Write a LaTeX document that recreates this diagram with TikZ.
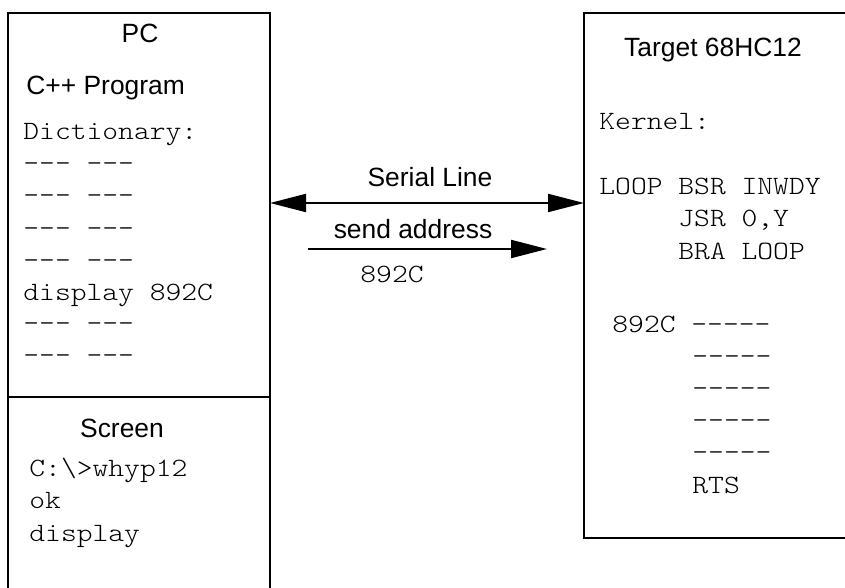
\documentclass[tikz,border=0pt]{standalone}
\usepackage{fontspec}
\setmainfont{Liberation Sans}
\setsansfont{Liberation Sans}
\setmonofont{lmmonolt10-regular}[Extension=.otf, FakeStretch=1.14]
\usetikzlibrary{arrows.meta}
\begin{document}
\begin{tikzpicture}[x=0.5pt,y=-0.5pt,
  box/.style={draw, line width=1.3pt, rectangle, inner sep=0pt, outer sep=0pt, anchor=north west},
  sans/.style={font=\fontsize{13.2}{16}\selectfont, inner sep=0pt},
  code/.style={font=\fontsize{13.2}{16}\selectfont\ttfamily, inner sep=0pt, anchor=base west},
  tipA/.style={line width=1pt, -{Triangle[length=18pt,width=9pt]}},
  tipB/.style={line width=1pt, {Triangle[length=18pt,width=9pt]}-{Triangle[length=18pt,width=9pt]}},
]
\clip (0,0) rectangle (845,588);
% boxes
\node[box, minimum width=131pt, minimum height=192pt] (pc) at (8,13) {};
\node[box, minimum width=131pt, minimum height=115pt] (scr) at (8,397) {};
\node[box, minimum width=150pt, minimum height=262.5pt] (target) at (584,13) {};
% PC texts
\node[sans, anchor=base] (pclbl) at (140,43) {PC};
\node[sans, anchor=base west] (cpp) at (26,95) {C++ Program};
\node[code] (d0) at (23,140) {Dictionary:};
\node[code] (d1) at (23,172) {--- ---};
\node[code] (d2) at (23,204) {--- ---};
\node[code] (d3) at (23,236) {--- ---};
\node[code] (d4) at (23,268) {--- ---};
\node[code] (d5) at (23,300) {display 892C};
\node[code] (d6) at (23,331) {--- ---};
\node[code] (d7) at (23,363) {--- ---};
% Screen texts
\node[sans, anchor=base] (scrlbl) at (122,437) {Screen};
\node[code] (s1) at (29,476) {C:\textbackslash>whyp12};
\node[code] (s2) at (29,508) {ok};
\node[code] (s3) at (29,541) {display};
% Target texts
\node[sans, anchor=base] (tlbl) at (713,57) {Target 68HC12};
\node[code] (k0) at (599,130) {Kernel:};
\node[code] (k1) at (599,195) {LOOP BSR INWDY};
\node[code] (k2) at (678,227) {JSR 0,Y};
\node[code] (k3) at (678,259) {BRA LOOP};
\node[code] (m0) at (612,332) {892C -----};
\node[code] (m1) at (692,364) {-----};
\node[code] (m2) at (692,396) {-----};
\node[code] (m3) at (692,428) {-----};
\node[code] (m4) at (692,460) {-----};
\node[code] (m5) at (692,493) {RTS};
% connectors
\coordinate (sy) at (0,203);
\draw[tipB] (pc.east |- sy) -- (target.west |- sy);
\node[sans, anchor=base] (serial) at (430,187) {Serial Line};
\coordinate (sa1) at (308,249);
\coordinate (sa2) at (547,249);
\draw[tipA] (sa1) -- (sa2);
\node[sans, anchor=base] (send) at (413,238) {send address};
\node[code] (addr) at (360,282) {892C};
\end{tikzpicture}
\end{document}
